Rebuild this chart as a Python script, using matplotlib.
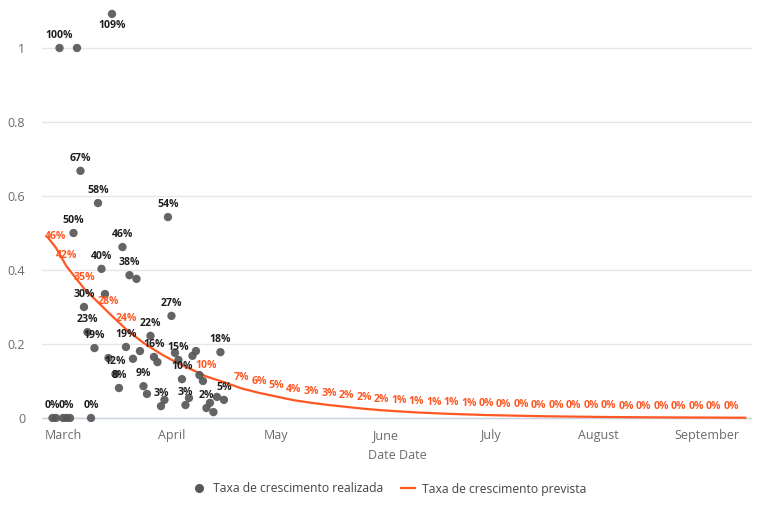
import matplotlib
matplotlib.use("Agg")
import matplotlib.pyplot as plt
import matplotlib.dates as mdates
from matplotlib.lines import Line2D
import pandas as pd

plt.rcParams['font.family'] = ['Open Sans', 'DejaVu Sans']

# realised growth rate, one value per day from 27 Feb 2020
real_start = '2020-02-27'
real_values = [0, 0, 1.0, 0, 0, 0, 0.50, 1.0, 0.668, 0.30,
               0.232, 0, 0.189, 0.581, 0.403, 0.335, 0.162, 1.092, 0.119, 0.081,
               0.462, 0.192, 0.386, 0.16, 0.376, 0.181, 0.086, 0.065, 0.222, 0.165,
               0.151, 0.032, 0.049, 0.543, 0.276, 0.176, 0.157, 0.105, 0.035, 0.054,
               0.168, 0.181, 0.116, 0.10, 0.027, 0.041, 0.016, 0.057, 0.178, 0.049]
real_labels = ['0%', '', '100%', '', '0%', '', '50%', '', '67%', '30%',
               '23%', '0%', '19%', '58%', '40%', '', '', '109%', '12%', '8%',
               '46%', '19%', '38%', '', '', '', '9%', '', '22%', '16%',
               '', '3%', '', '54%', '27%', '', '15%', '10%', '3%', '',
               '', '', '', '', '2%', '', '', '', '18%', '5%']

# predicted growth rate (fitted curve)
pred_dates = ['2020-02-25 12:00', '2020-02-28', '2020-03-02', '2020-03-07', '2020-03-14',
              '2020-03-19', '2020-03-24', '2020-03-29', '2020-04-03', '2020-04-07',
              '2020-04-11', '2020-04-16', '2020-04-21', '2020-04-26', '2020-05-01',
              '2020-05-06', '2020-05-11', '2020-05-16', '2020-05-21', '2020-05-26',
              '2020-05-31', '2020-06-05', '2020-06-10', '2020-06-15', '2020-06-20',
              '2020-06-25', '2020-06-30', '2020-07-05', '2020-07-10', '2020-07-15',
              '2020-07-20', '2020-07-25', '2020-07-30', '2020-08-04', '2020-08-09',
              '2020-08-14', '2020-08-19', '2020-08-24', '2020-08-29', '2020-09-03',
              '2020-09-08', '2020-09-12']
pred_values = [0.49, 0.46, 0.41, 0.35, 0.285,
               0.24, 0.203, 0.173, 0.147, 0.13,
               0.112, 0.097, 0.08, 0.068, 0.058,
               0.048, 0.041, 0.035, 0.030, 0.025,
               0.021, 0.018, 0.015, 0.013, 0.011,
               0.0095, 0.008, 0.007, 0.006, 0.005,
               0.0043, 0.0037, 0.0032, 0.0027, 0.0023,
               0.002, 0.0017, 0.0015, 0.0013, 0.0011,
               0.0009, 0.0008]
pred_labels = ['', '46%', '42%', '35%', '28%',
               '24%', '', '', '', '',
               '10%', '', '7%', '6%', '5%',
               '4%', '3%', '3%', '2%', '2%',
               '2%', '1%', '1%', '1%', '1%',
               '1%', '0%', '0%', '0%', '0%',
               '0%', '0%', '0%', '0%', '0%',
               '0%', '0%', '0%', '0%', '0%',
               '0%', '']

GREY = '#575757'
ORANGE = '#ff5722'
TICK = '#6b6b6b'

real_dates = pd.date_range(real_start, periods=len(real_values), freq='D')
pred_dt = pd.to_datetime(pred_dates, format='ISO8601')

fig = plt.figure(figsize=(7.7, 5.17), dpi=100)
ax = fig.add_axes([42 / 770, (517 - 422) / 517, 710 / 770, (422 - 5.5) / 517])

ax.plot(pred_dt, pred_values, color=ORANGE, lw=1.6, zorder=2)
ax.scatter(real_dates, real_values, s=36, color=GREY, alpha=0.92,
           edgecolors='none', zorder=3)

for d, v, t in zip(pred_dt, pred_values, pred_labels):
    if t:
        ax.annotate(t, (d, v), xytext=(0, 8), textcoords='offset points',
                    ha='center', va='center', fontsize=7.6, fontweight='bold',
                    color=ORANGE, zorder=4)

for d, v, t in zip(real_dates, real_values, real_labels):
    if t:
        dy = -8 if v > 1.05 else 9
        ax.annotate(t, (d, v), xytext=(0, dy), textcoords='offset points',
                    ha='center', va='center', fontsize=7.6, fontweight='bold',
                    color='#1e1e1e', zorder=5)

ax.set_xlim(pd.Timestamp('2020-02-24'), pd.Timestamp('2020-09-13 22:00'))
ax.set_ylim(-4 / 370, (418 - 5.5) / 370)

ax.xaxis.set_major_locator(mdates.MonthLocator())
ax.xaxis.set_major_formatter(mdates.DateFormatter('%B'))
ax.set_yticks([0, 0.2, 0.4, 0.6, 0.8, 1])
ax.set_yticklabels(['0', '0.2', '0.4', '0.6', '0.8', '1'])
ax.tick_params(axis='both', length=0, labelsize=9, colors=TICK)
ax.tick_params(axis='y', pad=12)
ax.tick_params(axis='x', pad=5)

for s in ax.spines.values():
    s.set_visible(False)
ax.yaxis.grid(True, color='#e6e6e6', lw=1)
ax.xaxis.grid(False)
ax.set_axisbelow(True)
ax.axhline(0, color='#c8d4e6', lw=1, zorder=1)

ax.set_xlabel('Date Date', fontsize=9, color=TICK, labelpad=5)

handles = [
    Line2D([], [], marker='o', ls='none', color=GREY, markersize=5.5),
    Line2D([], [], color=ORANGE, lw=1.6),
]
fig.legend(handles, ['Taxa de crescimento realizada', 'Taxa de crescimento prevista'],
           loc='center', bbox_to_anchor=(389 / 770, 1 - 489 / 517), ncol=2,
           frameon=False, fontsize=8.7, labelcolor='#444444', handlelength=1.15,
           handletextpad=0.55, columnspacing=1.5)

fig.savefig('out.png', dpi=100)
